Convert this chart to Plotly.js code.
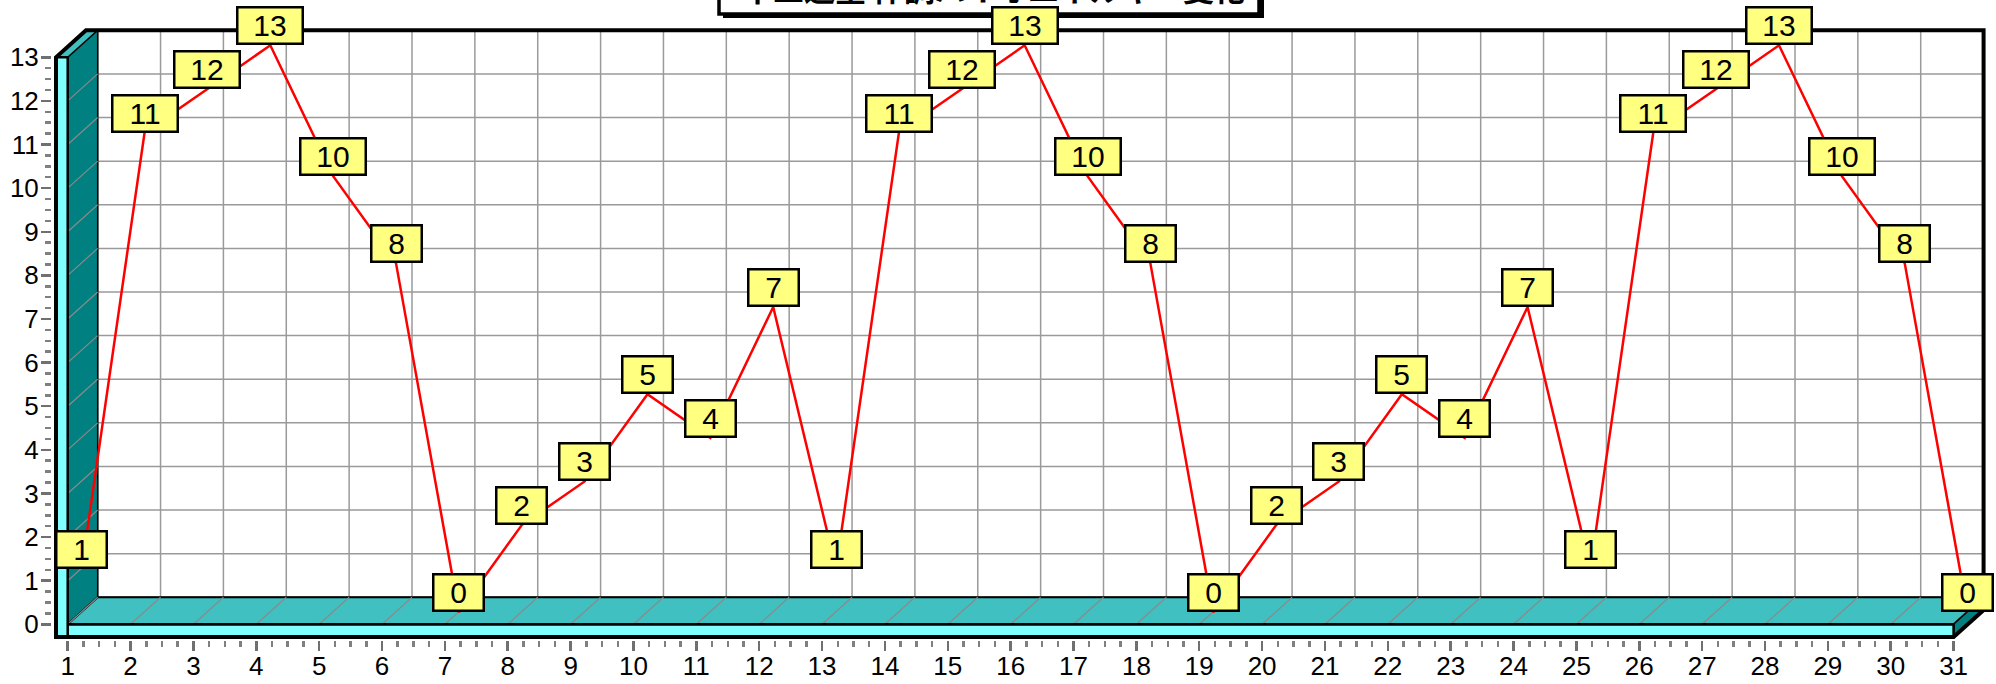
<!DOCTYPE html>
<html><head><meta charset="utf-8">
<script src="https://cdn.plot.ly/plotly-3.0.1.min.js"></script>
<style>html,body{margin:0;padding:0;background:#fff;overflow:hidden;}</style>
</head><body><div id="chart" style="width:1996px;height:684px;"></div>
<script>
// ---- data ----
const chartTitle = '十二運星 体調バイオエネルギー変化';
const days = [1,2,3,4,5,6,7,8,9,10,11,12,13,14,15,16,17,18,19,20,21,22,23,24,25,26,27,28,29,30,31];
const energy = [1,11,12,13,10,8,0,2,3,5,4,7,1,11,12,13,10,8,0,2,3,5,4,7,1,11,12,13,10,8,0];
const yTickVals = [0,1,2,3,4,5,6,7,8,9,10,11,12,13];

// ---- geometry ----
const W = 1996, H = 684;
const mL = 52, mR = 4, mT = 18, mB = 44;
const XMIN = 0.7502, XMAX = 31.611, YMIN = -0.360, YMAX = 13.901;
const FIRST = days[0], LAST = days[days.length-1], TOP = yTickVals[yTickVals.length-1];
const DX = 0.477, DY = 0.619;      // wall depth
const LX = 0.223, LY = 0.275;      // line depth
const FX0 = 0.814, FY0 = -0.291;   // front face outer edges

const plotW = W - mL - mR, plotH = H - mT - mB;
const px2paperX = p => (p - mL) / plotW;
const px2paperY = p => (H - mB - p) / plotH;

const shapes = [];
const P = (pts) => 'M' + pts.map(p => p[0] + ',' + p[1]).join(' L') + ' Z';
const gridCol = '#9a9a9a';

// back wall
shapes.push({type:'rect', xref:'x', yref:'y', x0:FIRST+DX, x1:LAST+DX, y0:DY, y1:TOP+DY,
  fillcolor:'#ffffff', line:{color:gridCol, width:1.5}, layer:'below'});
yTickVals.forEach(v => shapes.push({type:'line', xref:'x', yref:'y', x0:FIRST+DX, x1:LAST+DX, y0:v+DY, y1:v+DY,
  line:{color:gridCol, width:1.5}, layer:'below'}));
days.forEach(d => shapes.push({type:'line', xref:'x', yref:'y', x0:d+DX, x1:d+DX, y0:DY, y1:TOP+DY,
  line:{color:gridCol, width:1.5}, layer:'below'}));

// left wall side face
shapes.push({type:'path', xref:'x', yref:'y', path:P([[FIRST,0],[FIRST+DX,DY],[FIRST+DX,TOP+DY],[FIRST,TOP]]),
  fillcolor:'#008080', line:{color:'#000000', width:1.5}, layer:'below'});
yTickVals.forEach(v => shapes.push({type:'line', xref:'x', yref:'y', x0:FIRST, x1:FIRST+DX, y0:v, y1:v+DY,
  line:{color:'#8a8a8a', width:1.2}, layer:'below'}));
// left wall top face
shapes.push({type:'path', xref:'x', yref:'y', path:P([[FX0,TOP],[FIRST,TOP],[FIRST+DX,TOP+DY],[FX0+DX,TOP+DY]]),
  fillcolor:'#40C0C0', line:{color:'#000000', width:1.5}, layer:'below'});
// floor top face
shapes.push({type:'path', xref:'x', yref:'y', path:P([[FIRST,0],[LAST,0],[LAST+DX,DY],[FIRST+DX,DY]]),
  fillcolor:'#40C0C0', line:{color:'#000000', width:2}, layer:'below'});
days.forEach(d => shapes.push({type:'line', xref:'x', yref:'y', x0:d, x1:d+DX, y0:0, y1:DY,
  line:{color:'#8a8a8a', width:1.2}, layer:'below'}));
// floor right face
shapes.push({type:'path', xref:'x', yref:'y', path:P([[LAST,FY0],[LAST,0],[LAST+DX,DY],[LAST+DX,DY+FY0]]),
  fillcolor:'#008080', line:{color:'#000000', width:1.5}, layer:'below'});
// front faces
shapes.push({type:'rect', xref:'x', yref:'y', x0:FX0, x1:LAST, y0:FY0, y1:0,
  fillcolor:'#80FFFF', line:{color:'#000000', width:2.5}, layer:'below'});
shapes.push({type:'rect', xref:'x', yref:'y', x0:FX0, x1:FIRST, y0:FY0, y1:TOP,
  fillcolor:'#80FFFF', line:{color:'#000000', width:2.5}, layer:'below'});
shapes.push({type:'line', xref:'x', yref:'y', x0:FIRST, x1:LAST, y0:0, y1:0,
  line:{color:'#000000', width:2.5}, layer:'below'});
// outer silhouette
shapes.push({type:'path', xref:'x', yref:'y',
  path:P([[FX0,FY0],[FX0,TOP],[FX0+DX,TOP+DY],[LAST+DX,TOP+DY],[LAST+DX,DY+FY0],[LAST,FY0]]),
  line:{color:'#000000', width:4}, layer:'below'});

// title box + shadow
shapes.push({type:'rect', xref:'paper', yref:'paper', x0:px2paperX(723), x1:px2paperX(1264), y0:px2paperY(18), y1:px2paperY(-40),
  fillcolor:'#000000', line:{width:0}});
shapes.push({type:'rect', xref:'paper', yref:'paper', x0:px2paperX(719), x1:px2paperX(1259), y0:px2paperY(14), y1:px2paperY(-40),
  fillcolor:'#ffffff', line:{color:'#000000', width:3.5}});

// ---- traces ----
const lineX = days.map(d => d + LX);
const lineY = energy.map(v => v + LY);
const trace = {x: lineX, y: lineY, type:'scatter', mode:'lines',
  line:{color:'#FF0000', width:2.5}, hoverinfo:'skip', showlegend:false, cliponaxis:false};

const annotations = energy.map((v, i) => ({
  x: lineX[i], y: lineY[i], xref:'x', yref:'y', text: String(v), showarrow:false,
  xanchor:'center', yanchor:'bottom',
  font:{family:'Liberation Sans, Arial, sans-serif', size:30, color:'#000000'},
  bgcolor:'#FFFF80', bordercolor:'#000000', borderwidth:2.5, borderpad:0.5,
  width: String(v).length > 1 ? 62 : 47, height: 33
}));
annotations.push({
  x: px2paperX(993), y: px2paperY(14), xref:'paper', yref:'paper', text: chartTitle, showarrow:false,
  xanchor:'center', yanchor:'bottom', yshift: 2,
  font:{family:'Noto Sans CJK JP, sans-serif', size:31, color:'#000000', weight:700}
});

const minorX = [], minorY = [];
for (let d = FIRST; d < LAST; d++) for (let k = 1; k < 4; k++) minorX.push(d + k/4);
for (let v = 0; v < TOP; v++) for (let k = 1; k < 4; k++) minorY.push(v + k/4);

const layout = {
  width: W, height: H,
  margin:{l:mL, r:mR, t:mT, b:mB, pad:0},
  paper_bgcolor:'#ffffff', plot_bgcolor:'rgba(0,0,0,0)',
  showlegend:false,
  xaxis:{range:[XMIN, XMAX], tickmode:'array', tickvals:days, ticktext:days.map(String),
    showgrid:false, zeroline:false, showline:false,
    ticks:'outside', ticklen:10, tickwidth:2.5, tickcolor:'#707070', ticklabelstandoff:-7,
    tickfont:{family:'Liberation Sans, Arial, sans-serif', size:26, color:'#000000'},
    minor:{tickvals:minorX, ticks:'outside', ticklen:6, tickwidth:2.5, tickcolor:'#808080', showgrid:false},
    fixedrange:true},
  yaxis:{range:[YMIN, YMAX], tickmode:'array', tickvals:yTickVals, ticktext:yTickVals.map(String),
    showgrid:false, zeroline:false, showline:false,
    ticks:'outside', ticklen:10, tickwidth:2.5, tickcolor:'#707070', ticklabelstandoff:-3,
    tickfont:{family:'Liberation Sans, Arial, sans-serif', size:26, color:'#000000'},
    minor:{tickvals:minorY, ticks:'outside', ticklen:6, tickwidth:2.5, tickcolor:'#808080', showgrid:false},
    fixedrange:true},
  shapes: shapes,
  annotations: annotations
};

Plotly.newPlot('chart', [trace], layout, {staticPlot:true, displayModeBar:false});
</script>
</body></html>
